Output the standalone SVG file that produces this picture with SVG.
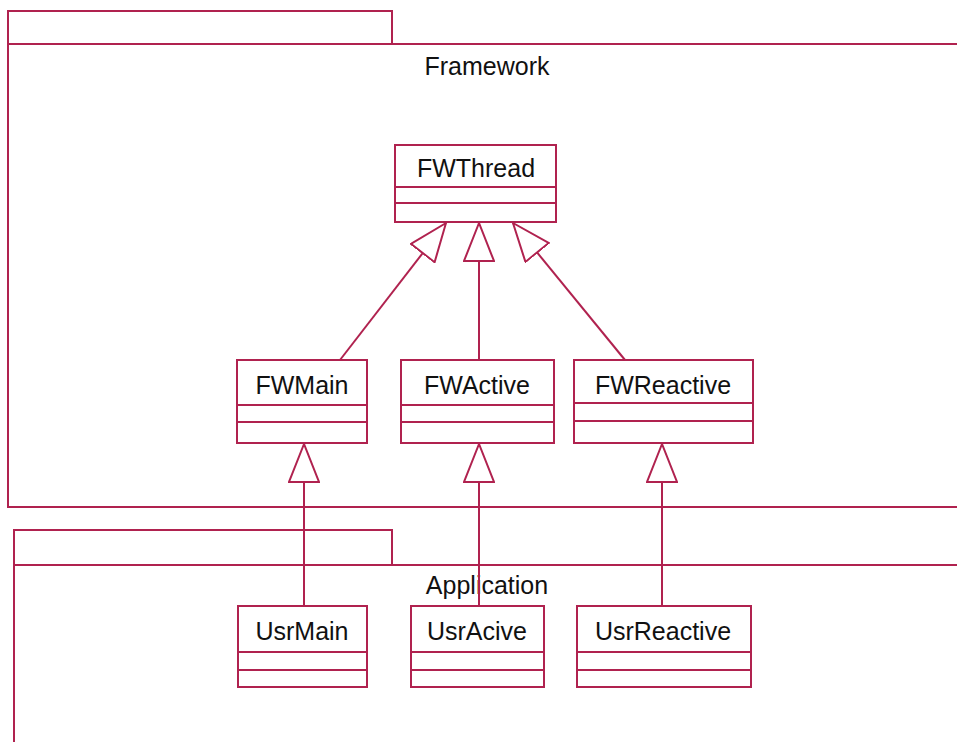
<svg xmlns="http://www.w3.org/2000/svg" width="957" height="742" viewBox="0 0 957 742">
<defs>
<style>
.ln{fill:none;stroke:#b0224f;stroke-width:2}
.bx{fill:#fff;stroke:#b0224f;stroke-width:2}
.t{font-family:"Liberation Sans",Arial,sans-serif;font-size:25px;fill:#111;text-anchor:middle}
</style>
<marker id="gen" viewBox="0 0 40 32" refX="39" refY="16" markerWidth="40" markerHeight="32" markerUnits="userSpaceOnUse" orient="auto">
<path d="M39,16 L1,1 L1,31 Z" fill="#fff" stroke="#b0224f" stroke-width="2"/>
</marker>
</defs>
<rect width="957" height="742" fill="#fff"/>
<g id="pkg-framework">
<rect class="ln" x="8" y="11" width="384" height="33"/>
<rect class="ln" x="8" y="44" width="960" height="463"/>
<text class="t" x="487" y="75">Framework</text>
</g>
<g id="pkg-application">
<rect class="ln" x="14" y="530" width="378" height="35"/>
<rect class="ln" x="14" y="565" width="960" height="200"/>
<text class="t" x="487" y="594">Application</text>
</g>
<g id="FWThread">
<rect class="bx" x="395" y="145" width="161" height="77"/>
<line class="ln" x1="395" y1="187" x2="556" y2="187"/>
<line class="ln" x1="395" y1="203" x2="556" y2="203"/>
<text class="t" x="476" y="177">FWThread</text>
</g>
<g id="FWMain">
<rect class="bx" x="237" y="360" width="130" height="83"/>
<line class="ln" x1="237" y1="405" x2="367" y2="405"/>
<line class="ln" x1="237" y1="422" x2="367" y2="422"/>
<text class="t" x="302" y="394">FWMain</text>
</g>
<g id="FWActive">
<rect class="bx" x="401" y="360" width="153" height="83"/>
<line class="ln" x1="401" y1="405" x2="554" y2="405"/>
<line class="ln" x1="401" y1="422" x2="554" y2="422"/>
<text class="t" x="477" y="394">FWActive</text>
</g>
<g id="FWReactive">
<rect class="bx" x="574" y="360" width="179" height="83"/>
<line class="ln" x1="574" y1="403" x2="753" y2="403"/>
<line class="ln" x1="574" y1="421" x2="753" y2="421"/>
<text class="t" x="663" y="394">FWReactive</text>
</g>
<g id="UsrMain">
<rect class="bx" x="238" y="606" width="129" height="81"/>
<line class="ln" x1="238" y1="652" x2="367" y2="652"/>
<line class="ln" x1="238" y1="670" x2="367" y2="670"/>
<text class="t" x="302" y="640">UsrMain</text>
</g>
<g id="UsrAcive">
<rect class="bx" x="411" y="606" width="133" height="81"/>
<line class="ln" x1="411" y1="652" x2="544" y2="652"/>
<line class="ln" x1="411" y1="670" x2="544" y2="670"/>
<text class="t" x="477" y="640">UsrAcive</text>
</g>
<g id="UsrReactive">
<rect class="bx" x="577" y="606" width="174" height="81"/>
<line class="ln" x1="577" y1="652" x2="751" y2="652"/>
<line class="ln" x1="577" y1="670" x2="751" y2="670"/>
<text class="t" x="663" y="640">UsrReactive</text>
</g>
<g id="connectors">
<line class="ln" x1="340" y1="360" x2="446" y2="223" marker-end="url(#gen)"/>
<line class="ln" x1="479" y1="360" x2="479" y2="223" marker-end="url(#gen)"/>
<line class="ln" x1="625" y1="360" x2="513" y2="223" marker-end="url(#gen)"/>
<line class="ln" x1="304" y1="606" x2="304" y2="444" marker-end="url(#gen)"/>
<line class="ln" x1="479" y1="606" x2="479" y2="444" marker-end="url(#gen)"/>
<line class="ln" x1="662" y1="606" x2="662" y2="444" marker-end="url(#gen)"/>
</g>
</svg>
